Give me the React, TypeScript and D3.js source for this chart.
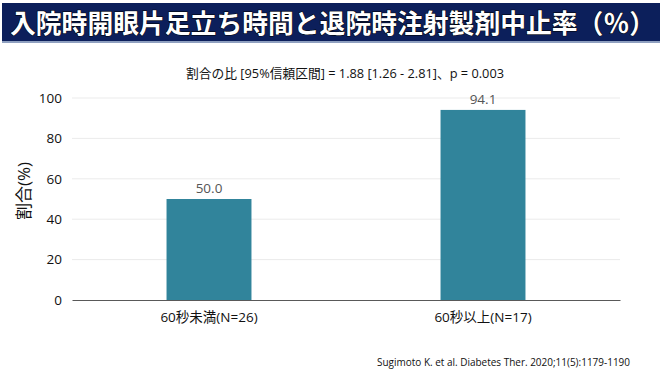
import { useEffect, useRef } from 'react'
import * as d3 from 'd3'

const categories = ['60秒未満(N=26)', '60秒以上(N=17)']
const rates = [50.0, 94.1]
const yTicks = [0, 20, 40, 60, 80, 100]

const titleText = '入院時開眼片足立ち時間と退院時注射製剤中止率（％）'
const subtitleText = '割合の比 [95%信頼区間] = 1.88 [1.26 - 2.81]、p  = 0.003'
const yLabel = '割合(%)'
const citation = 'Sugimoto K. et al. Diabetes Ther. 2020;11(5):1179-1190'

const W = 662
const H = 372
const margins = { top: 98, right: 42, bottom: 72, left: 72 }
const font = "'Open Sans', 'Noto Sans CJK JP', sans-serif"

export default function App() {
  const ref = useRef<SVGSVGElement>(null)

  useEffect(() => {
    if (!ref.current) return
    const svg = d3.select(ref.current)
    svg.selectAll('*').remove()

    const width = W - margins.left - margins.right
    const height = H - margins.top - margins.bottom

    // Title bar
    svg.append('rect').attr('x', 2).attr('y', 3).attr('width', 658).attr('height', 39).attr('fill', '#0c1f5b')
    svg.append('rect').attr('x', 2).attr('y', 41).attr('width', 658).attr('height', 2).attr('fill', '#8fa0c0')
    svg
      .append('text')
      .attr('x', 10)
      .attr('y', 33)
      .attr('textLength', 645)
      .attr('lengthAdjust', 'spacingAndGlyphs')
      .style('font', `bold 26px 'Noto Sans CJK JP', sans-serif`)
      .style('fill', '#fff')
      .style('stroke', '#000')
      .style('stroke-width', 1)
      .style('paint-order', 'stroke')
      .text(titleText)

    svg
      .append('text')
      .attr('x', 345)
      .attr('y', 78)
      .attr('text-anchor', 'middle')
      .attr('textLength', 318)
      .attr('lengthAdjust', 'spacingAndGlyphs')
      .style('font', `13px ${font}`)
      .style('fill', '#111')
      .text(subtitleText)

    const g = svg.append('g').attr('transform', `translate(${margins.left},${margins.top})`)

    const x = d3.scaleBand().domain(categories).range([0, width]).paddingInner(0.69).paddingOuter(0.345)
    const y = d3.scaleLinear().domain([0, 100]).range([height, 0])

    // Gridlines
    g.selectAll('line.grid')
      .data(yTicks.filter((t) => t > 0))
      .enter()
      .append('line')
      .attr('class', 'grid')
      .attr('x1', 0)
      .attr('x2', width)
      .attr('y1', (d) => y(d))
      .attr('y2', (d) => y(d))
      .style('stroke', '#ebebeb')
      .style('stroke-width', 1)

    // Bars
    g.selectAll('rect.bar')
      .data(rates)
      .enter()
      .append('rect')
      .attr('class', 'bar')
      .attr('x', (_, i) => x(categories[i])!)
      .attr('y', (d) => y(d))
      .attr('width', x.bandwidth())
      .attr('height', (d) => height - y(d))
      .style('fill', '#31849b')

    // Value labels
    g.selectAll('text.val')
      .data(rates)
      .enter()
      .append('text')
      .attr('class', 'val')
      .attr('x', (_, i) => x(categories[i])! + x.bandwidth() / 2)
      .attr('y', (d) => y(d) - 6)
      .attr('text-anchor', 'middle')
      .style('font', `13.5px ${font}`)
      .style('fill', '#555')
      .text((d) => d.toFixed(1))

    // X axis
    const xAxis = g
      .append('g')
      .attr('transform', `translate(0,${height})`)
      .call(d3.axisBottom(x).tickSize(0).tickPadding(12))
    xAxis.select('.domain').style('stroke', '#595959')
    xAxis.selectAll('text').style('font', `13.5px ${font}`).style('fill', '#111')

    // Y axis
    const yAxis = g.append('g').call(d3.axisLeft(y).tickValues(yTicks).tickSize(0).tickPadding(10))
    yAxis.select('.domain').remove()
    yAxis.selectAll('text').style('font', `13.5px ${font}`).style('fill', '#111')

    // Y label
    svg
      .append('text')
      .attr('transform', 'rotate(-90)')
      .attr('x', -(margins.top + height / 2 - 8))
      .attr('y', 30)
      .attr('text-anchor', 'middle')
      .style('font', `17px ${font}`)
      .style('fill', '#111')
      .text(yLabel)

    // Citation
    svg
      .append('text')
      .attr('x', 630)
      .attr('y', 366)
      .attr('text-anchor', 'end')
      .attr('textLength', 253)
      .attr('lengthAdjust', 'spacingAndGlyphs')
      .style('font', `11px ${font}`)
      .style('fill', '#111')
      .text(citation)
  }, [])

  return <svg ref={ref} width={W} height={H} style={{ position: 'absolute', left: 0, top: 0, background: '#fff' }} />
}
